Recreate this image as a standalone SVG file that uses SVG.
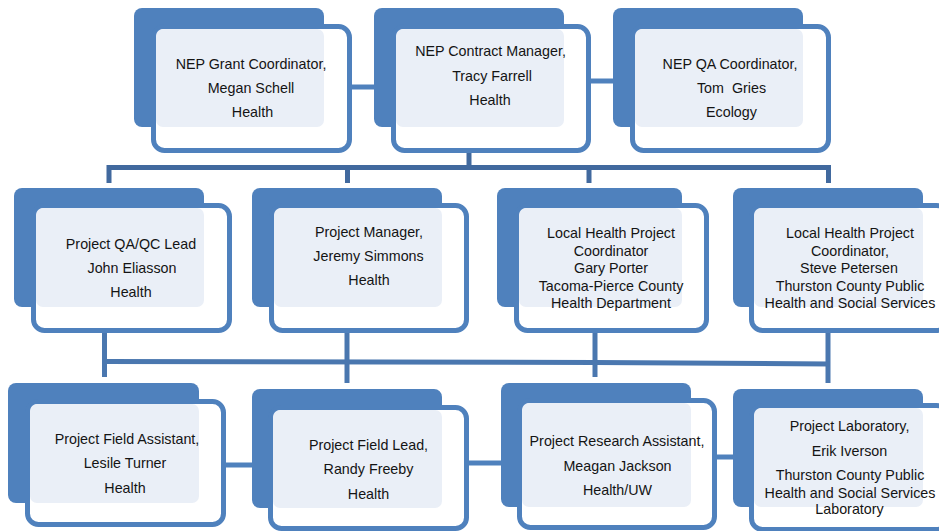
<svg xmlns="http://www.w3.org/2000/svg" width="939" height="531" viewBox="0 0 939 531">
<style>
.back{fill:#4F81BD}
.front{fill:#FFFFFF;stroke:#4F81BD;stroke-width:5}
.light{fill:#EAEFF7}
.t{font-family:"Liberation Sans",Arial,sans-serif;font-size:14.3px;text-anchor:middle;fill:#141414}
.c{stroke:#4F81BD;stroke-width:5;fill:none}
.bus{stroke:#41699E;stroke-width:5;fill:none}
.bus2{stroke:#4A77AF;stroke-width:5;fill:none}
.lt{stroke:#E6ECF3;stroke-width:5;fill:none}
</style>
<rect width="939" height="531" fill="#FFFFFF"/>
<g id="connectors">
  <line class="c" x1="350" y1="87" x2="378" y2="87"/>
  <line class="c" x1="589" y1="81" x2="617" y2="81"/>
  <line class="lt" x1="469" y1="132" x2="469" y2="150"/>
  <line class="bus" x1="469" y1="150" x2="469" y2="167.5"/>
  <polyline class="bus" points="109,183 109,167.5 831,167.5"/>
  <line class="bus" x1="347.5" y1="167.5" x2="347.5" y2="183"/>
  <line class="bus" x1="589" y1="167.5" x2="589" y2="183"/>
  <line class="bus" x1="828.5" y1="167.5" x2="828.5" y2="183"/>
  <line class="lt" x1="347" y1="313" x2="347" y2="331"/>
  <line class="lt" x1="828" y1="313" x2="828" y2="331"/>
  <line class="bus2" x1="104.5" y1="331" x2="104.5" y2="377"/>
  <line class="bus2" x1="347" y1="331" x2="347" y2="383"/>
  <line class="bus2" x1="595" y1="331" x2="595" y2="377"/>
  <line class="bus2" x1="828" y1="331" x2="828" y2="383"/>
  <polyline class="bus2" points="102,361.5 595,362.5 830,364"/>
  <line class="c" x1="224" y1="465" x2="266" y2="465"/>
  <line class="c" x1="467" y1="463" x2="505" y2="463"/>
  <line class="c" x1="715" y1="457" x2="737" y2="457"/>
</g>
<g id="node-grant">
  <rect class="back" x="134" y="8" width="190" height="119" rx="8"/>
  <rect class="front" x="153.5" y="26.5" width="196" height="124" rx="11"/>
  <rect class="light" x="156" y="29" width="168" height="98" rx="7"/>
  <text class="t" x="251" y="68.5">NEP Grant Coordinator,</text>
  <text class="t" x="251" y="92.5">Megan Schell</text>
  <text class="t" x="252.5" y="116.5">Health</text>
</g>
<g id="node-contract">
  <rect class="back" x="374" y="8" width="190" height="119" rx="8"/>
  <rect class="front" x="393.5" y="26.5" width="195" height="124" rx="11"/>
  <rect class="light" x="396" y="29" width="168" height="98" rx="7"/>
  <text class="t" x="490.5" y="56">NEP Contract Manager,</text>
  <text class="t" x="492" y="80.5">Tracy Farrell</text>
  <text class="t" x="490" y="104.5">Health</text>
</g>
<g id="node-qa">
  <rect class="back" x="613" y="8" width="190" height="119" rx="8"/>
  <rect class="front" x="632.5" y="26.5" width="196" height="124" rx="11"/>
  <rect class="light" x="635" y="29" width="168" height="98" rx="7"/>
  <text class="t" x="730" y="68.5">NEP QA Coordinator,</text>
  <text class="t" x="731.5" y="92.5" xml:space="preserve">Tom  Gries</text>
  <text class="t" x="731.5" y="116.5">Ecology</text>
</g>
<g id="node-qaqc">
  <rect class="back" x="14" y="188" width="190" height="119" rx="8"/>
  <rect class="front" x="33.5" y="205.5" width="196" height="125" rx="11"/>
  <rect class="light" x="36" y="208" width="168" height="99" rx="7"/>
  <text class="t" x="131" y="249">Project QA/QC Lead</text>
  <text class="t" x="132" y="273">John Eliasson</text>
  <text class="t" x="131" y="297">Health</text>
</g>
<g id="node-pm">
  <rect class="back" x="252" y="188" width="190" height="119" rx="8"/>
  <rect class="front" x="271.5" y="205.5" width="195" height="125" rx="11"/>
  <rect class="light" x="274" y="208" width="168" height="99" rx="7"/>
  <text class="t" x="369" y="237">Project Manager,</text>
  <text class="t" x="368.5" y="261">Jeremy Simmons</text>
  <text class="t" x="369" y="285">Health</text>
</g>
<g id="node-porter">
  <rect class="back" x="497" y="188" width="185" height="119" rx="8"/>
  <rect class="front" x="516.5" y="205.5" width="190" height="125" rx="11"/>
  <rect class="light" x="519" y="208" width="163" height="99" rx="7"/>
  <text class="t" x="611" y="238">Local Health Project</text>
  <text class="t" x="611" y="255.5">Coordinator</text>
  <text class="t" x="611" y="273">Gary Porter</text>
  <text class="t" x="611" y="290.5">Tacoma-Pierce County</text>
  <text class="t" x="611" y="307.5">Health Department</text>
</g>
<g id="node-petersen">
  <rect class="back" x="733" y="188" width="190" height="119" rx="8"/>
  <rect class="front" x="751.5" y="205.5" width="196" height="125" rx="11"/>
  <rect class="light" x="754" y="208" width="169" height="99" rx="7"/>
  <text class="t" x="850" y="238">Local Health Project</text>
  <text class="t" x="850" y="255.5">Coordinator,</text>
  <text class="t" x="849" y="273">Steve Petersen</text>
  <text class="t" x="850" y="290.5">Thurston County Public</text>
  <text class="t" x="850" y="307.5">Health and Social Services</text>
</g>
<g id="node-fieldassistant">
  <rect class="back" x="8" y="383" width="191" height="120" rx="8"/>
  <rect class="front" x="27.5" y="401.5" width="196" height="123" rx="11"/>
  <rect class="light" x="30" y="404" width="169" height="99" rx="7"/>
  <text class="t" x="127" y="444">Project Field Assistant,</text>
  <text class="t" x="125" y="468">Lesile Turner</text>
  <text class="t" x="125" y="492.5">Health</text>
</g>
<g id="node-fieldlead">
  <rect class="back" x="252" y="389" width="190" height="119" rx="8"/>
  <rect class="front" x="270.5" y="407.5" width="196" height="121" rx="11"/>
  <rect class="light" x="273" y="410" width="169" height="98" rx="7"/>
  <text class="t" x="368.5" y="450">Project Field Lead,</text>
  <text class="t" x="368.5" y="473.5">Randy Freeby</text>
  <text class="t" x="368.5" y="498.5">Health</text>
</g>
<g id="node-research">
  <rect class="back" x="501" y="383" width="190" height="124" rx="8"/>
  <rect class="front" x="519.5" y="400.5" width="195" height="127" rx="11"/>
  <rect class="light" x="522" y="403" width="169" height="104" rx="7"/>
  <text class="t" x="617" y="446">Project Research Assistant,</text>
  <text class="t" x="617.5" y="471">Meagan Jackson</text>
  <text class="t" x="617.5" y="494.5">Health/UW</text>
</g>
<g id="node-lab">
  <rect class="back" x="733" y="389" width="190" height="118" rx="8"/>
  <rect class="front" x="751.5" y="405.5" width="196" height="124" rx="11"/>
  <rect class="light" x="754" y="408" width="169" height="99" rx="7"/>
  <text class="t" x="849.5" y="431">Project Laboratory,</text>
  <text class="t" x="849.5" y="456">Erik Iverson</text>
  <text class="t" x="850" y="480">Thurston County Public</text>
  <text class="t" x="850" y="497.5">Health and Social Services</text>
  <text class="t" x="849.5" y="514">Laboratory</text>
</g>
</svg>
